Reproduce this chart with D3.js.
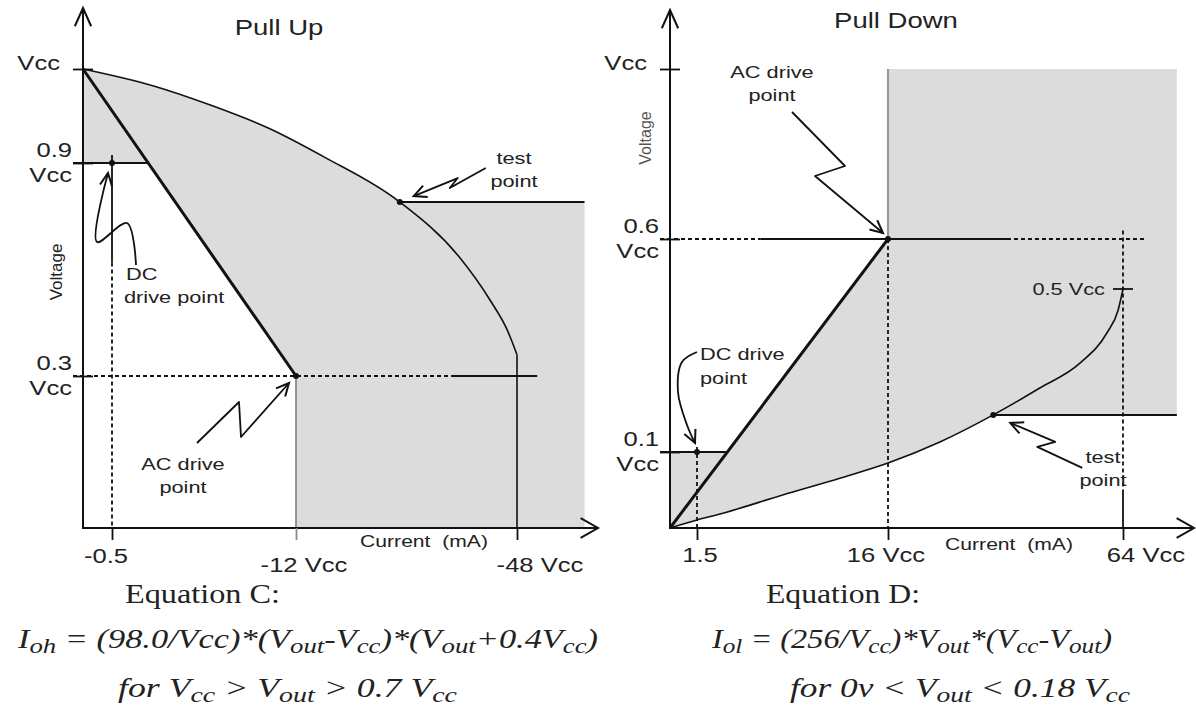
<!DOCTYPE html>
<html>
<head>
<meta charset="utf-8">
<script src="https://cdn.jsdelivr.net/npm/d3@7"></script>
<style>
  html, body { margin: 0; padding: 0; background: #fff; }
  svg { display: block; }
  text { white-space: pre; }
</style>
</head>
<body>
<svg id="chart" width="1196" height="713"></svg>
<script>
// ---------- Pull-up characteristic (current in mA, voltage as fraction of Vcc) ----------
const pullUpCurrentTicks  = [-0.5, -12, -48];
const pullUpCurrentLabels = ["-0.5", "-12 Vcc", "-48 Vcc"];
const pullUpVoltageTicks  = [1, 0.9, 0.3];
const pullUpVoltageLabels = [["Vcc"], ["0.9", "Vcc"], ["0.3", "Vcc"]];
const pullUpCurve = [
  [0, 1], [-3.1, 0.982], [-6.6, 0.962], [-10.3, 0.937], [-16.7, 0.906],
  [-28.9, 0.79], [-38.6, 0.635], [-43.6, 0.514], [-46.4, 0.43], [-48, 0.36]
];
const pullUpLoadLine  = [[0, 1], [-12, 0.3]];
const pullUpDcPoint   = [-0.5, 0.9];
const pullUpAcPoint   = [-12, 0.3];
const pullUpTestPoint = [-28.9, 0.79];
const pullUpBandEdge  = -59;

// ---------- Pull-down characteristic ----------
const pullDownCurrentTicks  = [1.5, 16, 64];
const pullDownCurrentLabels = ["1.5", "16 Vcc", "64 Vcc"];
const pullDownVoltageTicks  = [1, 0.6, 0.1];
const pullDownVoltageLabels = [["Vcc"], ["0.6", "Vcc"], ["0.1", "Vcc"]];
const pullDownCurve = [
  [0, 0], [1.5, 0.0105], [3.25, 0.0184], [8.0, 0.0434], [12.4, 0.0658], [16, 0.0855],
  [26.6, 0.1245], [37.5, 0.191], [47, 0.257], [55.2, 0.318], [60.7, 0.392], [63, 0.448], [64, 0.5]
];
const pullDownLoadLine  = [[0, 0], [16, 0.6]];
const pullDownDcPoint   = [1.5, 0.1];
const pullDownAcPoint   = [16, 0.6];
const pullDownTestPoint = [37.5, 0.191];
const pullDownPeak      = [64, 0.5];
const pullDownPeakLabel = "0.5 Vcc";
const pullDownBandEdge  = 75;

// ---------- drawing ----------
const SX = 1.28;                 // horizontal stretch of the lettering
const ink = "#111", textInk = "#222", shade = "#dcdcdc", edgeGrey = "#8a8a8a";
const sans = "'Liberation Sans', Arial, sans-serif";
const serif = "'Liberation Serif', 'Times New Roman', serif";
const svg = d3.select("#chart");

// Schematic (piecewise) scales: labelled values sit at fixed places on each axis
const xL = d3.scaleLinear().domain([0, -0.5, -12, -48]).range([83, 112, 296, 517]);
const yL = d3.scaleLinear().domain([0, 0.3, 0.9, 1]).range([528, 376, 163, 69]);
const xR = d3.scaleLinear().domain([0, 1.5, 16, 64]).range([670, 697, 888, 1123]);
const yR = d3.scaleLinear().domain([0, 0.1, 0.5, 0.6, 1]).range([528, 452, 289, 239, 69]);

const smooth = d3.line().curve(d3.curveMonotoneX);
const round = d3.line().curve(d3.curveCatmullRom.alpha(0.5));
const straight = d3.line();

function txt(g, x, y, s, o = {}) {
  return g.append("text")
    .attr("transform", `translate(${x},${y}) scale(${o.sx ?? SX},1)` + (o.rotate ? ` rotate(${o.rotate})` : ""))
    .attr("text-anchor", o.anchor || "start")
    .attr("font-family", o.family || sans)
    .attr("font-size", o.size || 20)
    .attr("fill", o.fill || textInk)
    .text(s);
}
function seg(g, a, b, o = {}) {
  return g.append("line")
    .attr("x1", a[0]).attr("y1", a[1]).attr("x2", b[0]).attr("y2", b[1])
    .attr("stroke", o.stroke || ink)
    .attr("stroke-width", o.width || 1.8)
    .attr("stroke-dasharray", o.dash ? "4,3" : null);
}
function head(g, tip, from, len = 13, spread = 0.42, w = 2) {
  const a = Math.atan2(tip[1] - from[1], tip[0] - from[0]);
  const p1 = [tip[0] - len * Math.cos(a - spread), tip[1] - len * Math.sin(a - spread)];
  const p2 = [tip[0] - len * Math.cos(a + spread), tip[1] - len * Math.sin(a + spread)];
  g.append("path").attr("d", `M${p1}L${tip}L${p2}`)
    .attr("fill", "none").attr("stroke", ink).attr("stroke-width", w)
    .attr("stroke-linejoin", "miter");
}
// Callout arrow: offsets are relative to the marked point, last one is the tip
function callout(g, anchor, offsets, curved) {
  const pts = offsets.map(([dx, dy]) => [anchor[0] + dx, anchor[1] + dy]);
  g.append("path").attr("d", (curved ? round : straight)(pts))
    .attr("fill", "none").attr("stroke", ink).attr("stroke-width", 1.8)
    .attr("stroke-linejoin", "round");
  head(g, pts[pts.length - 1], pts[pts.length - 2], 14, 0.45);
}
function dot(g, p) {
  g.append("circle").attr("cx", p[0]).attr("cy", p[1]).attr("r", 3).attr("fill", ink);
}
function crossX(a, b, y) {       // x where segment a-b reaches height y
  return a[0] + (y - a[1]) / (b[1] - a[1]) * (b[0] - a[0]);
}

function panel(cfg) {
  const { x, y, curve, load, dc, ac, test, edge } = cfg;
  const g = svg.append("g");
  const P = d => [x(d[0]), y(d[1])];
  const curvePx = curve.map(P);
  const loadPx = load.map(P);
  const testIdx = curve.findIndex(d => d[0] === test[0] && d[1] === test[1]);
  const ax = x(0), ay = y(0);

  // shaded operating region
  const dcY = y(dc[1]);
  const dcCross = [crossX(loadPx[0], loadPx[1], dcY), dcY];
  const top = cfg.side === "up" ? ay : y(1);
  const d = smooth(curvePx.slice(0, testIdx + 1)) +
    `L${x(edge)},${y(test[1])}L${x(edge)},${top}L${x(ac[0])},${top}L${P(ac)}` +
    `L${dcCross}L${ax},${dcY}Z`;
  g.append("path").attr("d", d).attr("fill", shade);

  cfg.guides(g, P, dcCross);

  // characteristic curve and load line
  g.append("path").attr("d", smooth(curvePx)).attr("fill", "none")
    .attr("stroke", ink).attr("stroke-width", 1.6);
  g.append("path").attr("d", straight(loadPx)).attr("fill", "none")
    .attr("stroke", ink).attr("stroke-width", 3);
  seg(g, P(test), [x(edge), y(test[1])], { width: 2 });

  // axes with arrowheads
  seg(g, [ax, ay], [ax, cfg.yTop], { width: 2 });
  head(g, [ax, cfg.yTop], [ax, ay], 20, 0.42, 2);
  seg(g, [ax - 1, ay], [cfg.xEnd, ay], { width: 2 });
  head(g, [cfg.xEnd, ay], [ax, ay], 20, 0.52, 2);

  const gx = g.append("g").attr("transform", `translate(0,${ay})`)
    .call(d3.axisBottom(x).tickValues(cfg.xTicks).tickSize(12).tickSizeOuter(0).tickFormat(() => ""));
  gx.select(".domain").remove();
  gx.selectAll(".tick line").attr("stroke", v => v === cfg.greyTick ? edgeGrey : ink).attr("stroke-width", 1.8);

  const gy = g.append("g").attr("transform", `translate(${ax + 10},0)`)
    .call(d3.axisLeft(y).tickValues(cfg.yTicks).tickSize(20).tickSizeOuter(0).tickFormat(() => ""));
  gy.select(".domain").remove();
  gy.selectAll(".tick line").attr("stroke", ink).attr("stroke-width", 1.8);

  // tick labels
  cfg.xTicks.forEach((v, i) => {
    const o = cfg.xLabelPos[i];
    txt(g, x(v) + o[0], ay + o[1], cfg.xLabels[i], { anchor: "middle", size: 20 });
  });
  cfg.yTicks.forEach((v, i) => {
    const lines = cfg.yLabels[i];
    if (lines.length === 1) txt(g, ax - 23, y(v) + 1, lines[0], { anchor: "end", size: 20 });
    else {
      txt(g, ax - 11, y(v) - 6, lines[0], { anchor: "end", size: 20 });
      txt(g, ax - 11, y(v) + 19, lines[1], { anchor: "end", size: 20 });
    }
  });

  dot(g, P(dc)); dot(g, P(ac)); dot(g, P(test));
  cfg.notes(g, P);
  return g;
}

// Pull Up
panel({
  side: "up", x: xL, y: yL, curve: pullUpCurve, load: pullUpLoadLine,
  dc: pullUpDcPoint, ac: pullUpAcPoint, test: pullUpTestPoint, edge: pullUpBandEdge,
  xTicks: pullUpCurrentTicks, xLabels: pullUpCurrentLabels,
  yTicks: pullUpVoltageTicks, yLabels: pullUpVoltageLabels,
  xLabelPos: [[-6, 35], [8, 44], [23, 44]],
  yTop: 8, xEnd: 598, greyTick: -12,
  guides(g, P, dcCross) {
    const dc = P(pullUpDcPoint), ac = P(pullUpAcPoint);
    seg(g, [xL(0) - 10, dc[1]], dcCross);
    seg(g, [dc[0], dc[1] - 8], [dc[0], yL(0.62)]);
    seg(g, [dc[0], yL(0.62)], [dc[0], yL(0)], { dash: true });
    seg(g, [xL(0) - 10, ac[1]], [xL(-37.4), ac[1]], { dash: true });
    seg(g, [xL(-37.4), ac[1]], [xL(-51.3), ac[1]]);
    seg(g, ac, [ac[0], yL(0)], { stroke: edgeGrey, width: 1.8 });
    const last = P(pullUpCurve[pullUpCurve.length - 1]);
    seg(g, last, [last[0], yL(0)], { width: 1.6 });
  },
  notes(g, P) {
    txt(g, 279, 35, "Pull Up", { anchor: "middle", size: 21.5 });
    txt(g, 62, 272, "Voltage", { anchor: "middle", size: 17, sx: 1, rotate: -90 });
    txt(g, 424, 547, "Current  (mA)", { anchor: "middle", size: 16.5 });
    const t = P(pullUpTestPoint), ac = P(pullUpAcPoint), dc = P(pullUpDcPoint);
    txt(g, 514, 164, "test", { anchor: "middle", size: 17 });
    txt(g, 514, 187, "point", { anchor: "middle", size: 17 });
    callout(g, t, [[86, -34], [50, -14], [58, -24], [14, -6]], false);
    txt(g, 183, 470, "AC drive", { anchor: "middle", size: 17 });
    txt(g, 183, 493, "point", { anchor: "middle", size: 17 });
    callout(g, ac, [[-99, 67], [-57, 26], [-55, 61], [-7, 7]], false);
    txt(g, 126, 280, "DC", { size: 17 });
    txt(g, 124, 303, "drive point", { size: 17 });
    callout(g, dc, [[24, 102], [15, 60], [-15, 79], [-4, 10]], true);
  }
});

// Pull Down
panel({
  side: "down", x: xR, y: yR, curve: pullDownCurve, load: pullDownLoadLine,
  dc: pullDownDcPoint, ac: pullDownAcPoint, test: pullDownTestPoint, edge: pullDownBandEdge,
  xTicks: pullDownCurrentTicks, xLabels: pullDownCurrentLabels,
  yTicks: pullDownVoltageTicks, yLabels: pullDownVoltageLabels,
  xLabelPos: [[3, 34], [-2, 34], [23, 34]],
  yTop: 10, xEnd: 1194, greyTick: null,
  guides(g, P, dcCross) {
    const dc = P(pullDownDcPoint), ac = P(pullDownAcPoint), pk = P(pullDownPeak);
    seg(g, [xR(0) - 10, dc[1]], dcCross);
    seg(g, [dc[0], dc[1] - 5], [dc[0], yR(0)], { dash: true });
    seg(g, [xR(0) - 10, ac[1]], [xR(6.3), ac[1]], { dash: true });
    seg(g, [xR(6.3), ac[1]], [xR(40.3), ac[1]]);
    seg(g, [xR(40.3), ac[1]], [xR(68.5), ac[1]], { dash: true });
    seg(g, [ac[0], yR(1)], ac, { stroke: "#9a9a9a", width: 2.2 });
    seg(g, ac, [ac[0], yR(0)], { dash: true });
    seg(g, [pk[0], yR(0.62)], [pk[0], yR(0.046)], { dash: true });
    seg(g, [pk[0], yR(0.046)], [pk[0], yR(0)]);
    seg(g, [pk[0] - 10, pk[1]], [pk[0] + 10, pk[1]]);
  },
  notes(g, P) {
    const pk = P(pullDownPeak);
    txt(g, 896, 28, "Pull Down", { anchor: "middle", size: 21.5 });
    txt(g, 651, 138, "Voltage", { anchor: "middle", size: 16, sx: 1, rotate: -90, fill: "#555" });
    txt(g, 1009, 550, "Current  (mA)", { anchor: "middle", size: 16.5 });
    txt(g, pk[0] - 18, pk[1] + 6, pullDownPeakLabel, { anchor: "end", size: 17 });
    const t = P(pullDownTestPoint), ac = P(pullDownAcPoint), dc = P(pullDownDcPoint);
    txt(g, 1103, 463, "test", { anchor: "middle", size: 17 });
    txt(g, 1103, 486, "point", { anchor: "middle", size: 17 });
    callout(g, t, [[89, 53], [44, 32], [62, 27], [17, 8]], false);
    txt(g, 772, 78, "AC drive", { anchor: "middle", size: 17 });
    txt(g, 772, 101, "point", { anchor: "middle", size: 17 });
    callout(g, ac, [[-96, -127], [-43, -73], [-73, -63], [-5, -6]], false);
    txt(g, 700, 360, "DC drive", { size: 17 });
    txt(g, 700, 384, "point", { size: 17 });
    callout(g, dc, [[0, -100], [-15, -90], [-19, -60], [-10, -27], [-2, -9]], true);
  }
});

// ---------- equations ----------
function equation(x, y, width, size, italic, parts) {
  const t = svg.append("text").attr("x", x).attr("y", y)
    .attr("font-family", serif).attr("font-size", size)
    .attr("font-style", italic ? "italic" : "normal")
    .attr("fill", textInk)
    .attr("textLength", width).attr("lengthAdjust", "spacingAndGlyphs");
  let shift = 0;
  parts.forEach(p => {
    const sub = Array.isArray(p);
    const s = t.append("tspan").text(sub ? p[0] : p);
    const want = sub ? 5 : 0;
    if (want !== shift) { s.attr("dy", want - shift); shift = want; }
    if (sub) s.attr("font-size", size * 0.78);
  });
}
equation(125, 603, 155, 28, false, ["Equation C:"]);
equation(18, 648, 580, 28, true,
  ["I", ["oh"], " = (98.0/Vcc)*(V", ["out"], "-V", ["cc"], ")*(V", ["out"], "+0.4V", ["cc"], ")"]);
equation(118, 697, 339, 28, true,
  ["for V", ["cc"], " > V", ["out"], " > 0.7 V", ["cc"]]);

equation(766, 603, 154, 28, false, ["Equation D:"]);
equation(712, 648, 400, 28, true,
  ["I", ["ol"], " = (256/V", ["cc"], ")*V", ["out"], "*(V", ["cc"], "-V", ["out"], ")"]);
equation(790, 697, 340, 28, true,
  ["for 0v < V", ["out"], " < 0.18 V", ["cc"]]);
</script>
</body>
</html>
